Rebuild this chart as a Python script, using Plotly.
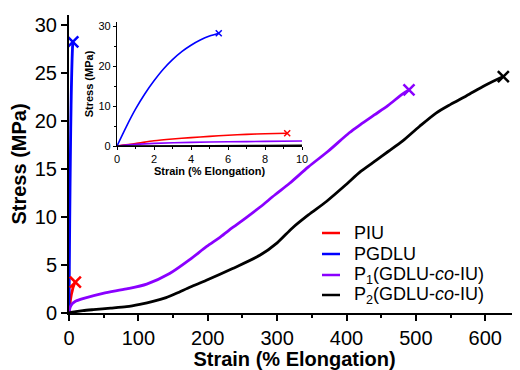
import plotly.graph_objects as go

# ---- data ----
piu_strain = [0, 1, 2, 3, 4, 5, 6, 7, 8, 9.2]
piu_stress = [0, 0.6, 1.3, 1.75, 2.1, 2.4, 2.7, 2.9, 3.05, 3.2]

pgdlu_strain = [0, 0.5, 1, 1.5, 2, 2.5, 3, 3.5, 4, 4.5, 5, 5.5]
pgdlu_stress = [0, 4.8, 9.2, 13.0, 16.3, 19.2, 21.6, 23.6, 25.2, 26.5, 27.5, 28.2]

p1_strain = [0, 1, 2, 4, 6, 8, 10, 20, 49, 83, 112, 145, 175, 198, 218, 236, 255,
             275, 297, 318, 345, 373, 404, 420, 440, 460, 481, 490]
p1_stress = [0, 0.4, 0.65, 0.9, 1.05, 1.15, 1.25, 1.5, 2.05, 2.5, 3.0, 4.1, 5.6, 6.9, 7.9, 8.9, 9.9,
             11.0, 12.3, 13.5, 15.2, 16.8, 18.75, 19.6, 20.6, 21.6, 22.8, 23.2]

p2_strain = [0, 5, 10, 20, 35, 60, 83, 102, 121, 140, 155, 175, 198, 235, 275, 300, 322, 345, 371, 400,
             420, 443, 460, 481, 505, 529, 550, 573, 600, 626]
p2_stress = [0, 0.08, 0.15, 0.25, 0.35, 0.5, 0.66, 0.9, 1.2, 1.6, 2.05, 2.7, 3.4, 4.6, 6.0, 7.3, 8.85,
             10.2, 11.6, 13.4, 14.7, 15.9, 16.8, 17.9, 19.4, 20.8, 21.7, 22.6, 23.7, 24.6]

x_ticks = [0, 100, 200, 300, 400, 500, 600]
y_ticks = [0, 5, 10, 15, 20, 25, 30]
inset_x_ticks = [0, 2, 4, 6, 8, 10]
inset_y_ticks = [0, 10, 20, 30]

names = ["PIU", "PGDLU", "P<sub>1</sub>(GDLU-<i>co</i>-IU)", "P<sub>2</sub>(GDLU-<i>co</i>-IU)"]
colors = ["#ff0000", "#0000ff", "#8a00ff", "#000000"]
strains = [piu_strain, pgdlu_strain, p1_strain, p2_strain]
stresses = [piu_stress, pgdlu_stress, p1_stress, p2_stress]
inset_marked = {"PIU", "PGDLU"}

FONT = "Arial, Liberation Sans, sans-serif"

fig = go.Figure()

# main plot
for name, xs, ys, col in zip(names, strains, stresses, colors):
    fig.add_trace(go.Scatter(x=xs, y=ys, mode="lines", name=name, showlegend=False,
                             line=dict(color=col, width=2.8, shape="spline", smoothing=0.8),
                             xaxis="x", yaxis="y"))
for name, xs, ys, col in zip(names, strains, stresses, colors):
    fig.add_trace(go.Scatter(x=[xs[-1]], y=[ys[-1]], mode="markers", showlegend=False,
                             marker=dict(symbol="x-thin", size=11, line=dict(color=col, width=2.5)),
                             xaxis="x", yaxis="y"))

# inset
for name, xs, ys, col in zip(names, strains, stresses, colors):
    fig.add_trace(go.Scatter(x=xs, y=ys, mode="lines", showlegend=False,
                             line=dict(color=col, width=1.6, shape="spline", smoothing=0.8),
                             xaxis="x2", yaxis="y2"))
    if name in inset_marked:
        fig.add_trace(go.Scatter(x=[xs[-1]], y=[ys[-1]], mode="markers", showlegend=False,
                                 marker=dict(symbol="x-thin", size=6, line=dict(color=col, width=1.5)),
                                 xaxis="x2", yaxis="y2"))

# The page body adds an 8px margin, so the figure is drawn at (8, 8) in the window.
OFF = 8
# main plot area in window pixels
L, T, W, H = 69, 15, 451, 298
def px(x):
    return (x - L) / W
def py(y):
    return (T + H - y) / H

# legend (line samples + text)
row_y = [233, 254, 275, 295]
shapes = []
annotations = []
for name, col, yy in zip(names, colors, row_y):
    shapes.append(dict(type="line", xref="paper", yref="paper", x0=px(322), x1=px(340),
                       y0=py(yy), y1=py(yy), line=dict(color=col, width=2.5)))
    annotations.append(dict(xref="paper", yref="paper", x=px(352), y=py(yy), text=name,
                            showarrow=False, xanchor="left", yanchor="middle",
                            font=dict(size=18, family=FONT, color="black")))

fig.update_layout(
    width=520 - OFF, height=370 - OFF,
    margin=dict(l=L - OFF, r=0, t=T - OFF, b=370 - T - H, autoexpand=False),
    paper_bgcolor="white", plot_bgcolor="white",
    font=dict(family=FONT, color="black"),
    showlegend=False,
    shapes=shapes, annotations=annotations,
    xaxis=dict(range=[0, 650], domain=[0, 1], tickvals=x_ticks, automargin=False,
               showgrid=False, zeroline=False, showline=True, linecolor="black", linewidth=2,
               ticks="outside", ticklen=6, tickwidth=1.5, tickcolor="black",
               minor=dict(tickvals=[50, 150, 250, 350, 450, 550, 650], ticks="outside",
                          ticklen=3, tickwidth=1.5, tickcolor="black"),
               tickfont=dict(size=20, family=FONT),
               title=dict(text="<b>Strain (% Elongation)</b>", font=dict(size=20, family=FONT),
                          standoff=2)),
    yaxis=dict(range=[0, 31], domain=[0, 1], tickvals=y_ticks, automargin=False,
               showgrid=False, zeroline=False, showline=True, linecolor="black", linewidth=2,
               ticks="outside", ticklen=6, tickwidth=1.5, tickcolor="black",
               tickfont=dict(size=20, family=FONT),
               title=dict(text="<b>Stress (MPa)</b>", font=dict(size=20, family=FONT),
                          standoff=8)),
    xaxis2=dict(range=[0, 10], domain=[px(117), px(302)], anchor="y2", automargin=False,
                tickvals=inset_x_ticks,
                showgrid=False, zeroline=False, showline=True, linecolor="black", linewidth=1.3,
                ticks="outside", ticklen=3, tickwidth=1, tickcolor="black",
                minor=dict(tickvals=[1, 3, 5, 7, 9], ticks="outside", ticklen=2,
                           tickwidth=1, tickcolor="black"),
                tickfont=dict(size=11, family=FONT),
                title=dict(text="<b>Strain (% Elongation)</b>", font=dict(size=11, family=FONT),
                           standoff=2)),
    yaxis2=dict(range=[0, 31], domain=[py(146), py(22)], anchor="x2", automargin=False,
                tickvals=inset_y_ticks,
                showgrid=False, zeroline=False, showline=True, linecolor="black", linewidth=1.3,
                ticks="outside", ticklen=3, tickwidth=1, tickcolor="black",
                minor=dict(tickvals=[5, 15, 25], ticks="outside", ticklen=2,
                           tickwidth=1, tickcolor="black"),
                tickfont=dict(size=11, family=FONT),
                title=dict(text="<b>Stress (MPa)</b>", font=dict(size=11, family=FONT),
                           standoff=2)),
)

fig.write_html("out.html")
